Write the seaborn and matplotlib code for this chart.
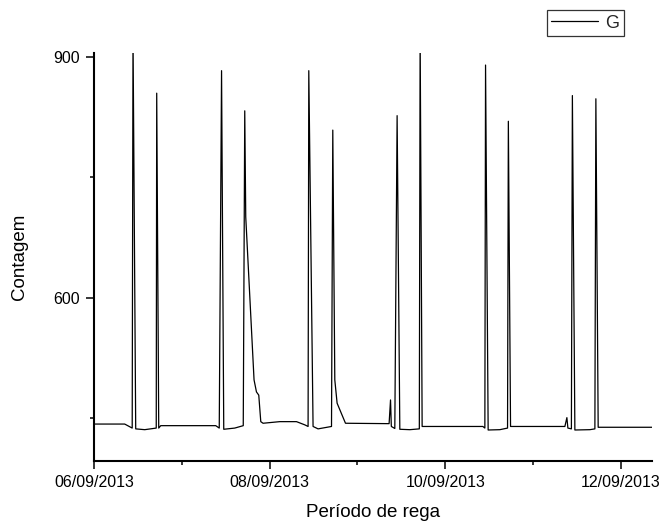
import numpy as np
import pandas as pd
import matplotlib
matplotlib.use("Agg")
import matplotlib.pyplot as plt
import matplotlib.dates as mdates
from matplotlib.ticker import MultipleLocator
import seaborn as sns

# Data: hours since 06/09/2013 00:00 and the counts
hours = [0.0, 8.39, 10.44, 10.66, 11.40, 13.86, 17.01, 17.14, 17.69, 18.24,
         33.27, 34.23, 34.86, 35.46, 38.47, 40.79, 41.20, 41.47, 43.74, 44.40,
         45.03, 45.58, 46.20, 50.77, 55.34, 57.61, 58.51, 58.70, 59.87, 61.24,
         64.91, 65.26, 65.81, 66.44, 67.17, 68.73, 80.65, 81.04, 81.26, 82.21,
         82.84, 83.58, 86.31, 88.91, 89.13, 89.68, 97.25, 106.27, 106.82, 107.01,
         107.72, 110.92, 113.02, 113.24, 113.84, 121.85, 128.69, 129.24, 129.51, 130.47,
         130.74, 131.42, 135.52, 136.89, 137.16, 137.79, 152.47]
counts = [443, 443, 438, 930, 437, 436, 438, 855, 438, 441,
          441, 438, 883, 436.5, 438, 441, 833, 701, 498, 483,
          479, 446, 444, 446, 446, 442, 440, 883, 440, 437,
          440, 809, 498, 469, 461, 444, 443.5, 473, 440, 437.5,
          827, 436.5, 436, 437, 930, 440, 440, 440, 438, 890,
          435.6, 436, 438, 820, 440, 440, 440, 451, 438, 437,
          852, 435.6, 436, 437, 848, 439, 439]
series_name = "G"
x_label = "Período de rega"
y_label = "Contagem"
start = pd.Timestamp("2013-09-06 00:00")

df = pd.DataFrame({
    "time": start + pd.to_timedelta(hours, unit="h"),
    "value": counts,
    "serie": series_name,
})

sns.set_theme(style="ticks")
plt.rcParams["font.family"] = ["Liberation Sans", "DejaVu Sans"]

fig = plt.figure(figsize=(6.61, 5.24), dpi=100)
ax = fig.add_axes([94/661, 1-461/524, (652-94)/661, (461-53)/524])

sns.lineplot(data=df, x="time", y="value", hue="serie", palette=["black"],
             linewidth=0.9, ax=ax, legend=False, estimator=None, sort=False)

ax.set_xlim(start, start + pd.Timedelta(hours=152.5))
ax.set_ylim(397, 905)

ax.xaxis.set_major_locator(mdates.DayLocator(bymonthday=[6, 8, 10, 12]))
ax.xaxis.set_minor_locator(mdates.DayLocator())
ax.xaxis.set_major_formatter(mdates.DateFormatter("%d/%m/%Y"))
ax.yaxis.set_major_locator(MultipleLocator(300))
ax.yaxis.set_minor_locator(MultipleLocator(150))

for s in ["top", "right"]:
    ax.spines[s].set_visible(False)
for s in ["left", "bottom"]:
    ax.spines[s].set_linewidth(1.5)
    ax.spines[s].set_color("black")

ax.tick_params(axis="both", which="major", length=6, width=1.1, color="black",
               labelsize=11.5, labelcolor="black", pad=4, direction="out")
ax.tick_params(axis="both", which="minor", length=3, width=1.1, color="black",
               direction="out")

ax.set_xlabel(x_label, fontsize=13.5, color="black", labelpad=10)
ax.set_ylabel(y_label, fontsize=13.5, color="black", labelpad=18)

handle = plt.Line2D([], [], color="black", linewidth=0.9)
leg = fig.legend([handle], [series_name], loc="center",
                 bbox_to_anchor=(585.5/661, 1-23/524), fontsize=13,
                 frameon=True, fancybox=False, handlelength=2.6,
                 borderpad=0.25, handletextpad=0.4)
leg.get_frame().set_edgecolor("black")
leg.get_frame().set_linewidth(0.9)

fig.savefig("out.png", dpi=100, facecolor="white")
